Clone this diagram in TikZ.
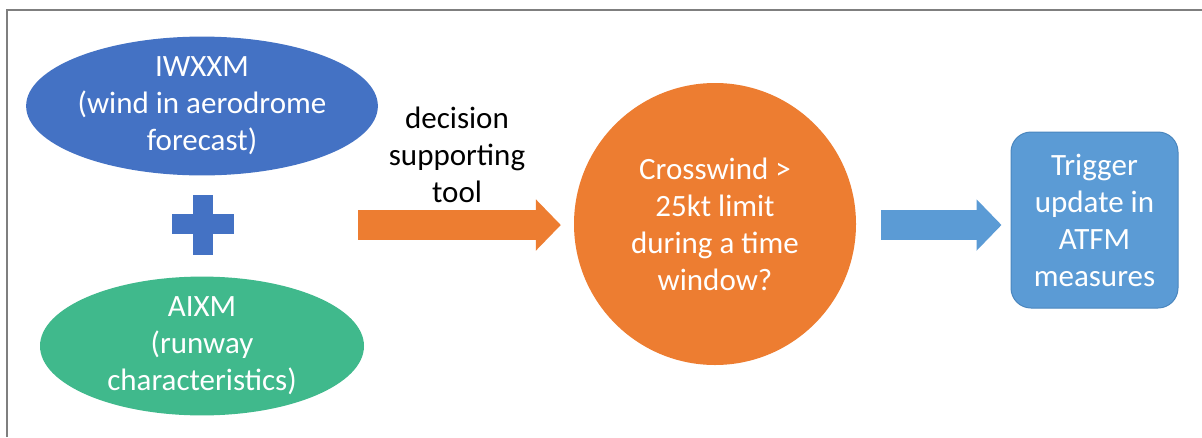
\documentclass[tikz,border=0pt]{standalone}
\usepackage{fontspec}
\setmainfont{Carlito}
\usetikzlibrary{shapes.geometric,arrows.meta,calc}
\definecolor{iwblue}{HTML}{4472C4}
\definecolor{aigreen}{HTML}{40B98C}
\definecolor{orng}{HTML}{ED7D31}
\definecolor{ltblue}{HTML}{5B9BD5}
\definecolor{ltblueedge}{HTML}{4A86BE}
\definecolor{framegray}{HTML}{7F7F7F}
\tikzset{
  txt/.style={font=\fontsize{31}{37}\selectfont, align=center},
  ell/.style={ellipse, txt, text=white, inner sep=0pt, minimum width=324pt, minimum height=134pt},
  blockarrow/.style={line width=30pt, line cap=butt, -{Triangle[length=25pt,width=50pt]}},
}
\begin{document}
\begin{tikzpicture}[x=1pt,y=-1pt]
\useasboundingbox (0,0) rectangle (1202,437);
\fill[white] (0,0) rectangle (1202,437);
% frame
\draw[framegray, line width=2pt] (7,437) -- (7,9.5) -- (1202,9.5);
% ellipses
\node[ell, fill=iwblue] (iw) at (202,106) {IWXXM\\(wind in aerodrome\\forecast)};
\node[ell, fill=aigreen] (ai) at (202,346) {AIXM\\(runway\\characteristics)};
% plus
\fill[iwblue] (193,195) rectangle (213,255);
\fill[iwblue] (172,214) rectangle (234,234);
% label
\node[txt, text=black] (dst) at (457,155) {decision\\supporting\\tool};
% circle
\node[circle, fill=orng, txt, text=white, inner sep=0pt, minimum size=282pt] (cw) at (715,224) {Crosswind >\\25kt limit\\during a time\\window?};
% box
\node[rectangle, rounded corners=20pt, fill=ltblue, draw=ltblueedge, line width=1pt, txt, text=white, inner sep=0pt, minimum width=167pt, minimum height=176pt] (tr) at (1094.5,220) {Trigger\\update in\\ATFM\\measures};
% arrows
\coordinate (a1s) at (358,225);
\draw[blockarrow, orng] (a1s) -- ([xshift=-13pt]cw.west |- a1s);
\coordinate (a2s) at (881,225);
\draw[blockarrow, ltblue] (a2s) -- ([xshift=-9pt]tr.west |- a2s);
\end{tikzpicture}
\end{document}
